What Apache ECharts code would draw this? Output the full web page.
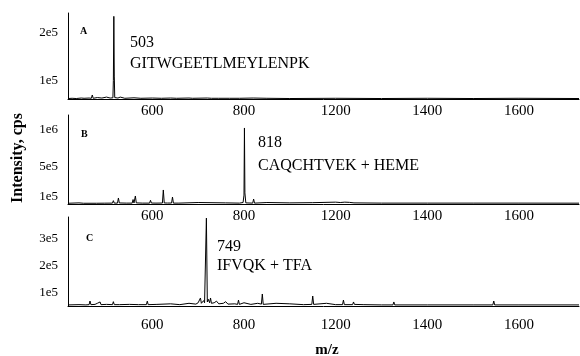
<!DOCTYPE html>
<html>
<head>
<meta charset="utf-8">
<script src="https://cdn.jsdelivr.net/npm/echarts@6/dist/echarts.min.js"></script>
<style>
html,body{margin:0;padding:0;background:#fff;}
#chart{width:580px;height:356px;}
</style>
</head>
<body>
<div id="chart"></div>
<script>
// x positions are on the plotted m/z scale of the figure
const xTickValues = [600, 800, 1000, 1200, 1400];
const xTickLabels = ['600', '800', '1200', '1400', '1600'];

// Panel A
const mzA  = [416,425,434,436,438,445,447,449,451,462,467,469,471,480,490,500,508,514,515,516,517,518,525,530,540,560,575,600,620,640,653,655,657,680,688,690,692,720,729,731,733,745,768,770,772,790,820,850,900,1000,1100,1200,1300,1400,1531];
const intA = [63000,63500,63000,65000,63500,64000,63500,66000,63500,64000,63500,70400,63500,65000,64000,66000,64000,64500,101000,235000,110000,65000,64000,66000,63500,64500,63500,64000,63500,64000,63500,65500,63500,64000,63500,65500,63500,64000,63500,66000,63500,63500,63500,65500,63500,63500,64000,63500,63000,63500,63000,63500,63000,63500,63000];
const yTicksA = [100000, 200000];

// Panel B
const mzB  = [416,440,450,478,480,482,495,513,515,517,524,526,528,543,545,547,556,558,560,561,563,565,578,580,582,594,596,598,608,610,612,622,624,626,633,635,637,642,644,646,658,660,662,700,760,790,798,800,801,802,804,819,821,823,850,900,950,1000,1010,1020,1030,1040,1100,1200,1300,1400,1531];
const intB = [10000,15000,10000,10000,20000,11000,11000,12000,45000,12000,12000,81000,14000,12000,30000,12000,12000,60000,14000,14000,108000,15000,12000,35000,12000,12000,50000,13000,12000,30000,13000,13000,189000,14000,13000,25000,13000,13000,94000,12000,12000,30000,12000,20000,15000,12000,20000,120000,1025000,150000,15000,12000,67000,12000,20000,15000,18000,25000,20000,25000,22000,15000,12000,12000,12000,12000,11000];
const yTicksB = [100000, 500000, 1000000];

// Panel C
const mzC  = [416,440,455,462,464,466,475,480,482,484,486,488,500,513,515,517,528,530,532,550,570,587,589,591,610,640,660,680,695,700,703,705,707,710,712,714,716,718,720,722,725,727,729,735,740,745,755,760,765,780,786,788,790,800,815,830,838,840,842,870,900,930,948,950,952,980,1000,1015,1017,1019,1037,1039,1041,1045,1060,1100,1125,1127,1129,1200,1300,1343,1345,1347,1400,1531];
const intC = [54000,55000,54000,55000,68500,55000,56000,60000,55000,56000,65000,55000,56000,55000,66000,55000,55000,60000,55000,56000,55000,55000,68000,55000,56000,58000,55000,60000,57000,62000,58000,79700,60000,63000,70000,62000,64000,376000,65000,75000,62000,79700,60000,62000,68000,58000,60000,66000,57000,58000,56000,72000,56000,62000,56000,60000,57000,94500,56000,60000,58000,55000,56000,87000,56000,60000,55000,55000,72000,55000,55000,65000,56000,62000,55000,54000,54000,65000,54000,54000,54000,54000,68500,54000,54000,54000];
const yTicksC = [100000, 200000, 300000];

const panelLetters = ['A', 'B', 'C'];
const peakMasses = ['503', '818', '749'];
const peakNames = ['GITWGEETLMEYLENPK', 'CAQCHTVEK + HEME', 'IFVQK + TFA'];

const SERIF = '"Liberation Serif", "DejaVu Serif", serif';

function expFmt(v) {
  const e = Math.floor(Math.log10(v) + 1e-9);
  const m = Math.round(v / Math.pow(10, e));
  return m + 'e' + e;
}
function xFmt(v) {
  const i = xTickValues.findIndex(t => Math.abs(t - v) < 0.5);
  return i >= 0 ? xTickLabels[i] : '';
}

const grids = [
  {left: 68, right: 1, top: 13, height: 86},
  {left: 68, right: 1, top: 115, height: 89},
  {left: 68, right: 1, top: 217, height: 89}
];
const yRanges = [[62000, 242000], [0, 1200000], [50000, 380000]];
const yTicks = [yTicksA, yTicksB, yTicksC];
const xMargins = [5, 5, 12];
const datasets = [[mzA, intA], [mzB, intB], [mzC, intC]];

const xAxes = grids.map((g, i) => ({
  type: 'value', gridIndex: i, min: 416, max: 1531,
  axisLine: {show: true, onZero: false, lineStyle: {color: '#000', width: 1}},
  axisTick: {show: false},
  splitLine: {show: false},
  axisLabel: {
    customValues: xTickValues, formatter: xFmt, margin: xMargins[i],
    color: '#000', fontFamily: SERIF, fontSize: 15
  }
}));
const yAxes = grids.map((g, i) => ({
  type: 'value', gridIndex: i, min: yRanges[i][0], max: yRanges[i][1],
  axisLine: {show: true, lineStyle: {color: '#000', width: 1}},
  axisTick: {show: false},
  splitLine: {show: false},
  axisLabel: {
    customValues: yTicks[i], formatter: expFmt, margin: 10,
    color: '#000', fontFamily: SERIF, fontSize: 13
  }
}));
const series = datasets.map((d, i) => ({
  type: 'line', xAxisIndex: i, yAxisIndex: i,
  data: d[0].map((m, k) => [m, d[1][k]]),
  symbol: 'none', showSymbol: false, sampling: null,
  lineStyle: {color: '#000', width: 1},
  animation: false, silent: true
}));

const letterPos = [[80, 31], [81, 134], [86, 238]];
const massPos = [[130, 43], [258, 143], [217, 247]];
const namePos = [[130, 64], [258, 166], [217, 266]];
const graphics = [];
for (let i = 0; i < 3; i++) {
  graphics.push({type: 'text', x: letterPos[i][0], y: letterPos[i][1],
    style: {text: panelLetters[i], font: 'bold 10px ' + SERIF, fill: '#000', verticalAlign: 'middle'}});
  graphics.push({type: 'text', x: massPos[i][0], y: massPos[i][1],
    style: {text: peakMasses[i], font: '16px ' + SERIF, fill: '#000', verticalAlign: 'middle'}});
  graphics.push({type: 'text', x: namePos[i][0], y: namePos[i][1],
    style: {text: peakNames[i], font: '16px ' + SERIF, fill: '#000', verticalAlign: 'middle'}});
}
graphics.push({type: 'text', x: 18, y: 158, rotation: Math.PI / 2,
  style: {text: 'Intensity, cps', font: 'bold 16px ' + SERIF, fill: '#000', align: 'center', verticalAlign: 'middle'}});
graphics.push({type: 'text', x: 327, y: 350,
  style: {text: 'm/z', font: 'bold 15px ' + SERIF, fill: '#000', align: 'center', verticalAlign: 'middle'}});

const chart = echarts.init(document.getElementById('chart'), null, {renderer: 'canvas'});
chart.setOption({
  backgroundColor: '#fff',
  animation: false,
  grid: grids,
  xAxis: xAxes,
  yAxis: yAxes,
  series: series,
  graphic: graphics
});
</script>
</body>
</html>
